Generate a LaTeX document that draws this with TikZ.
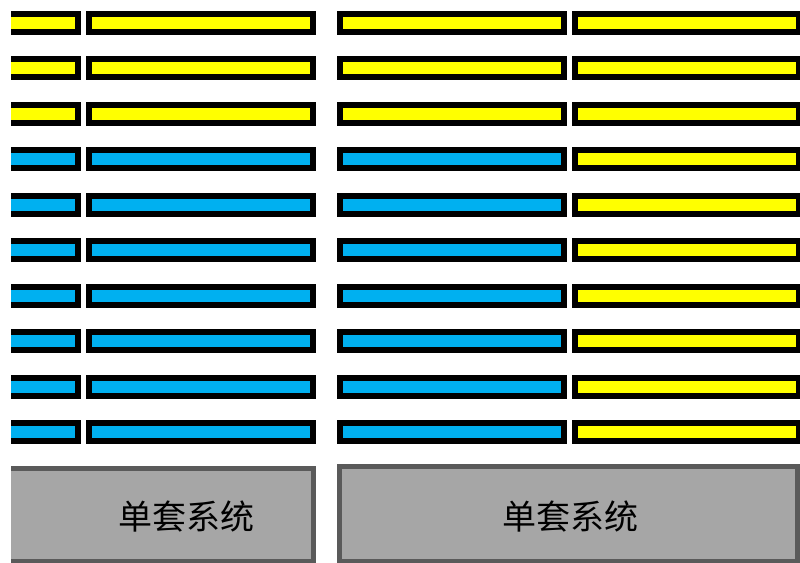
\documentclass[tikz,border=0pt]{standalone}
\usepackage{fontspec}
\newfontfamily\cjk{Noto Sans CJK SC}
\definecolor{barYellow}{HTML}{FFFF00}
\definecolor{barBlue}{HTML}{00B0F0}
\definecolor{boxFill}{HTML}{A6A6A6}
\definecolor{boxLine}{HTML}{5A5A5A}
\begin{document}
\begin{tikzpicture}[x=1pt,y=-1pt,
  bar/.style={draw=black,line width=6pt,inner sep=0pt,outer sep=0pt,minimum height=18pt,rectangle},
  shortbar/.style={bar,minimum width=125pt},
  longbar/.style={bar,minimum width=224pt},
  sysbox/.style={draw=boxLine,fill=boxFill,line width=5pt,inner sep=0pt,outer sep=0pt,rectangle},
  systext/.style={font=\cjk\fontsize{34pt}{40pt}\selectfont,text=black,inner sep=0pt}]
\useasboundingbox (0,0) rectangle (800,562);
\clip (11,0) rectangle (800,562);
\foreach \i in {0,...,9}{
  \pgfmathsetmacro{\yy}{22.5+45.5*\i}
  \ifnum\i<3
    \def\lc{barYellow}
  \else
    \def\lc{barBlue}
  \fi
  \node[shortbar,fill=\lc] (a\i) at (15.5,\yy) {};
  \node[longbar,fill=\lc] (b\i) at (201,\yy) {};
  \node[longbar,fill=\lc] (c\i) at (452,\yy) {};
  \node[longbar,fill=barYellow] (d\i) at (687,\yy) {};
}
\node[sysbox,minimum width=361pt,minimum height=93pt] (leftbox) at (133,515) {};
\node[sysbox,minimum width=458pt,minimum height=95pt] (rightbox) at (568.5,514) {};
\node[systext] (lefttext) at (186,517) {单套系统};
\node[systext] (righttext) at (570,517) {单套系统};
\end{tikzpicture}
\end{document}
